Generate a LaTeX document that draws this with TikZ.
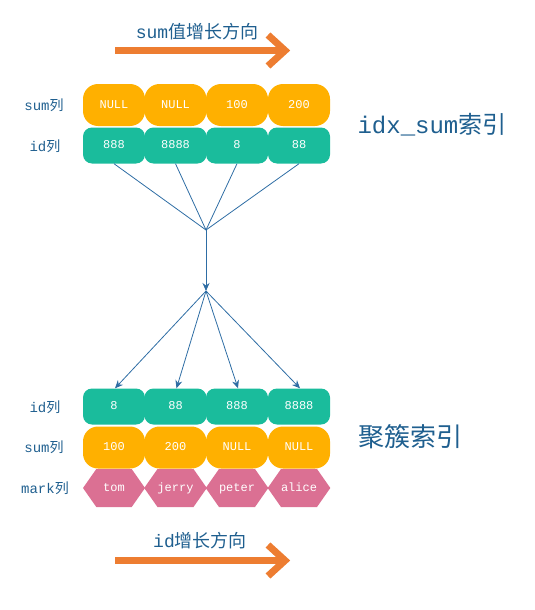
\documentclass[tikz,border=0pt]{standalone}
\usepackage{fontspec}
\setmainfont{Liberation Mono}
\newfontfamily\cjk{Noto Sans CJK SC}
\usetikzlibrary{shapes.symbols,arrows.meta}
\definecolor{cOrange}{HTML}{FFB000}
\definecolor{cTeal}{HTML}{1ABC9C}
\definecolor{cPink}{HTML}{DB7093}
\definecolor{cArrow}{HTML}{ED7D31}
\definecolor{cLine}{HTML}{2E6DA4}
\definecolor{cLabel}{HTML}{1F5F8F}
\tikzset{
  boxtext/.style={text=white,font=\fontsize{12}{12}\selectfont,text height=8pt,text depth=2pt,inner sep=0pt},
  sumbox/.style={boxtext,fill=cOrange,rounded corners=15pt,minimum width=62pt,minimum height=42pt},
  idbox/.style={boxtext,fill=cTeal,rounded corners=9pt,minimum width=62pt,minimum height=36pt},
  markbox/.style={boxtext,fill=cPink,shape=signal,signal to=east and west,signal pointer angle=110,minimum width=62pt,minimum height=38pt},
  collabel/.style={text=cLabel,font=\fontsize{14}{14}\selectfont,inner sep=0pt},
  title/.style={text=cLabel,inner sep=0pt},
  conn/.style={draw=cLine,line width=0.8pt},
  connarrow/.style={conn,-{Stealth[length=8pt,width=7pt]}},
  dirline/.style={draw=cArrow,line width=7pt},
  dirhead/.style={draw=cArrow,line width=7pt,miter limit=10},
  dirtext/.style={text=cLabel,font=\fontsize{18}{18}\selectfont,inner sep=0pt}
}
\begin{document}
\begin{tikzpicture}[x=1pt,y=-1pt]
\useasboundingbox (0,0) rectangle (535,610);
% top direction arrow
\node[dirtext] (toptxt) at (197,32) {sum{\cjk 值增长方向}};
\coordinate (ta1) at (115,50.5);
\coordinate (ta2) at (283,50.5);
\draw[dirline] (ta1) -- (ta2);
\draw[dirhead] (268,35) -- (285,50.5) -- (268,66);
% top index
\node[collabel] (lsum1) at (44,105) {sum{\cjk 列}};
\node[collabel] (lid1) at (45,146) {id{\cjk 列}};
\node[sumbox] (s1) at (114,105) {NULL};
\node[sumbox] (s2) at (175.5,105) {NULL};
\node[sumbox] (s3) at (237,105) {100};
\node[sumbox] (s4) at (299,105) {200};
\node[idbox] (i1) at (114,145.5) {888};
\node[idbox] (i2) at (175.5,145.5) {8888};
\node[idbox] (i3) at (237,145.5) {8};
\node[idbox] (i4) at (299,145.5) {88};
\node[title,font=\fontsize{24}{24}\selectfont] (t1) at (432,125) {idx\_sum{\cjk 索引}};
% connectors
\coordinate (hub1) at (206,230);
\coordinate (hub2) at (206,291);
\foreach \n in {i1,i2,i3,i4} \draw[conn] (\n.south) -- (hub1);
\draw[connarrow] (hub1) -- (hub2);
% bottom index
\node[collabel] (lid2) at (45,407) {id{\cjk 列}};
\node[collabel] (lsum2) at (44,447) {sum{\cjk 列}};
\node[collabel] (lmark2) at (45,488) {mark{\cjk 列}};
\node[idbox] (j1) at (114,406.5) {8};
\node[idbox] (j2) at (175.5,406.5) {88};
\node[idbox] (j3) at (237,406.5) {888};
\node[idbox] (j4) at (299,406.5) {8888};
\node[sumbox] (u1) at (114,447.5) {100};
\node[sumbox] (u2) at (175.5,447.5) {200};
\node[sumbox] (u3) at (237,447.5) {NULL};
\node[sumbox] (u4) at (299,447.5) {NULL};
\node[markbox] (m1) at (114,488) {tom};
\node[markbox] (m2) at (175.5,488) {jerry};
\node[markbox] (m3) at (237,488) {peter};
\node[markbox] (m4) at (299,488) {alice};
\node[title,font=\fontsize{26}{26}\selectfont] (t2) at (410,437) {\cjk 聚簇索引};
\foreach \n in {j1,j2,j3,j4} \draw[connarrow] (hub2) -- ([xshift=1pt]\n.north);
% bottom direction arrow
\node[dirtext] (bottxt) at (200,541) {id{\cjk 增长方向}};
\coordinate (ba1) at (115,560.5);
\coordinate (ba2) at (283,560.5);
\draw[dirline] (ba1) -- (ba2);
\draw[dirhead] (268,545) -- (285,560.5) -- (268,576);
\end{tikzpicture}
\end{document}
